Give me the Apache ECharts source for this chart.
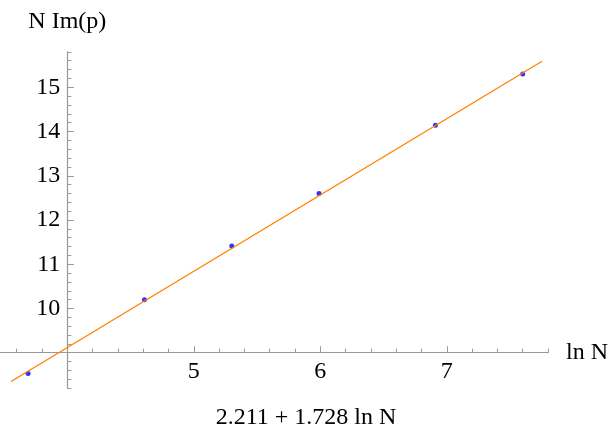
<!DOCTYPE html>
<html>
<head>
<meta charset="utf-8">
<script src="https://cdn.jsdelivr.net/npm/echarts@6/dist/echarts.min.js"></script>
<style>
  html, body { margin: 0; padding: 0; background: #fff; }
  #main { width: 612px; height: 436px; }
</style>
</head>
<body>
<div id="main"></div>
<script>
  // data
  const lnN = [3.69, 4.61, 5.30, 5.99, 6.91, 7.60];
  const nImP = [8.53, 10.20, 11.41, 12.60, 14.14, 15.30];
  // fitted line end points
  const fitX = [3.555, 7.753];
  const fitY = [8.35, 15.59];
  const xTickLabels = [5, 6, 7];
  const yTickLabels = [10, 11, 12, 13, 14, 15];
  const fitLabel = '2.211 + 1.728 ln N';

  const font = "'Liberation Serif', 'Times New Roman', serif";
  const axisGray = '#999999';

  let myechart = echarts.init(document.getElementById('main'));

  let option = {
    animation: false,
    title: {
      text: fitLabel,
      left: 'center',
      top: 406,
      padding: 0,
      textStyle: { fontFamily: font, fontSize: 24, fontWeight: 'normal', color: '#000' }
    },
    grid: [
      // full axis lines + minor ticks + data
      { left: -8.6, right: 64, top: 51.9, bottom: 47.9, outerBoundsMode: 'none', containLabel: false },
      // major ticks + labels, edges sit on the axes crossing (4, 9)
      { left: 67.3, right: 165.2, top: 87.5, bottom: 83.3, outerBoundsMode: 'none', containLabel: false }
    ],
    xAxis: [
      {
        type: 'value', gridIndex: 0,
        min: 3.4, max: 7.8, interval: 0.2,
        position: 'bottom', offset: -35.4,
        axisLine: { show: true, lineStyle: { color: axisGray, width: 1.2 } },
        axisTick: { show: true, inside: true, length: 4, lineStyle: { color: axisGray } },
        axisLabel: { show: false },
        splitLine: { show: false },
        name: 'ln N', nameLocation: 'end', nameGap: 18,
        nameTextStyle: { fontFamily: font, fontSize: 24, color: '#000' }
      },
      {
        type: 'value', gridIndex: 1,
        min: 4, max: 7, interval: 1,
        axisLine: { show: false },
        axisTick: { show: true, inside: true, length: 6.5, lineStyle: { color: axisGray } },
        axisLabel: {
          margin: 7, fontFamily: font, fontSize: 24, color: '#000',
          formatter: v => xTickLabels.indexOf(v) >= 0 ? String(v) : ''
        },
        splitLine: { show: false }
      }
    ],
    yAxis: [
      {
        type: 'value', gridIndex: 0,
        min: 8.2, max: 15.8, interval: 0.2,
        position: 'left', offset: -75.9,
        axisLine: { show: true, lineStyle: { color: axisGray, width: 1.2 } },
        axisTick: { show: true, inside: true, length: 4, lineStyle: { color: axisGray } },
        axisLabel: { show: false },
        splitLine: { show: false },
        name: 'N Im(p)', nameLocation: 'end', nameGap: 18,
        nameTextStyle: { fontFamily: font, fontSize: 24, color: '#000' }
      },
      {
        type: 'value', gridIndex: 1,
        min: 9, max: 15, interval: 1,
        axisLine: { show: false },
        axisTick: { show: true, inside: true, length: 6.5, lineStyle: { color: axisGray } },
        axisLabel: {
          margin: 7, fontFamily: font, fontSize: 24, color: '#000',
          formatter: v => yTickLabels.indexOf(v) >= 0 ? String(v) : ''
        },
        splitLine: { show: false }
      }
    ],
    series: [
      {
        type: 'line', xAxisIndex: 0, yAxisIndex: 0,
        data: fitX.map((x, i) => [x, fitY[i]]),
        symbol: 'none', clip: false,
        lineStyle: { color: '#ff8000', width: 1.3 }
      },
      {
        type: 'scatter', xAxisIndex: 0, yAxisIndex: 0,
        data: lnN.map((x, i) => [x, nImP[i]]),
        symbolSize: 5,
        itemStyle: { color: '#0000ff' }
      }
    ]
  };
  myechart.setOption(option);
</script>
</body>
</html>
